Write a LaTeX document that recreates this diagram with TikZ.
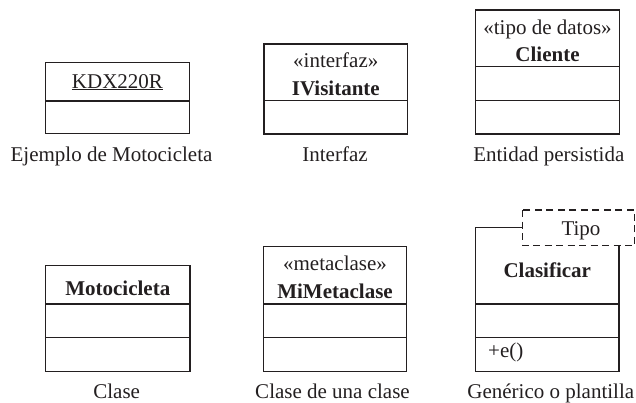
\documentclass[tikz,border=0pt]{standalone}
\usepackage{fontspec}
\setmainfont{Liberation Serif}
\definecolor{ink}{HTML}{231F20}
\begin{document}
\begin{tikzpicture}[x=1pt,y=-1pt,
  box/.style={draw=ink, line width=1.2pt},
  dashbox/.style={draw=ink, line width=1.2pt, dash pattern=on 7pt off 4.5pt},
  txt/.style={inner sep=0pt, anchor=base, text=ink, font=\fontsize{21}{25}\selectfont},
  bold/.style={txt, font=\fontsize{21}{25}\selectfont\bfseries}]
\useasboundingbox (0,0) rectangle (636,402);
% Box 1: instance
\draw[box] (45.5,62.5) rectangle (189.5,133.5);
\draw[box] (45.5,101) -- (189.5,101);
\node[txt] (kdx) at (117.5,88) {\underline{KDX220R}};
\node[txt] (l1) at (111.5,161) {Ejemplo de Motocicleta};
% Box 2: interface
\draw[box] (264,44) rectangle (407.5,134);
\draw[box] (264,100.7) -- (407.5,100.7);
\node[txt] (st2) at (335.8,67) {«interfaz»};
\node[bold] (iv) at (335.8,95) {IVisitante};
\node[txt] (l2) at (335,161) {Interfaz};
% Box 3: data type
\draw[box] (475.5,10) rectangle (619.3,134);
\draw[box] (475.5,66.7) -- (619.3,66.7);
\draw[box] (475.5,100.7) -- (619.3,100.7);
\node[txt] (st3) at (547.5,34) {«tipo de datos»};
\node[bold] (cl) at (547.5,61) {Cliente};
\node[txt] (l3) at (548.8,161) {Entidad persistida};
% Box 4: class
\draw[box] (45.7,265.7) rectangle (190,371.7);
\draw[box] (45.7,304) -- (190,304);
\draw[box] (45.7,337.7) -- (190,337.7);
\node[bold] (mo) at (117.8,295) {Motocicleta};
\node[txt] (l4) at (116.7,398.5) {Clase};
% Box 5: metaclass
\draw[box] (263.3,246.7) rectangle (406.7,371.3);
\draw[box] (263.3,304) -- (406.7,304);
\draw[box] (263.3,337.7) -- (406.7,337.7);
\node[txt] (st5) at (335,270) {«metaclase»};
\node[bold] (mm) at (335,298) {MiMetaclase};
\node[txt] (l5) at (332.5,398.5) {Clase de una clase};
% Box 6: template
\draw[box] (522.7,227.3) -- (475.7,227.3) -- (475.7,371.7) -- (619,371.7) -- (619,245.7);
\draw[box] (475.7,304) -- (619,304);
\draw[box] (475.7,337.3) -- (619,337.3);
\draw[dashbox] (522.7,210) rectangle (634.5,245.7);
\node[txt] (tp) at (581,235) {Tipo};
\node[bold] (cf) at (547.3,277) {Clasificar};
\node[txt, anchor=base west] (op) at (488,357) {+e()};
\node[txt] (l6) at (550.8,398.5) {Genérico o plantilla};
\end{tikzpicture}
\end{document}
